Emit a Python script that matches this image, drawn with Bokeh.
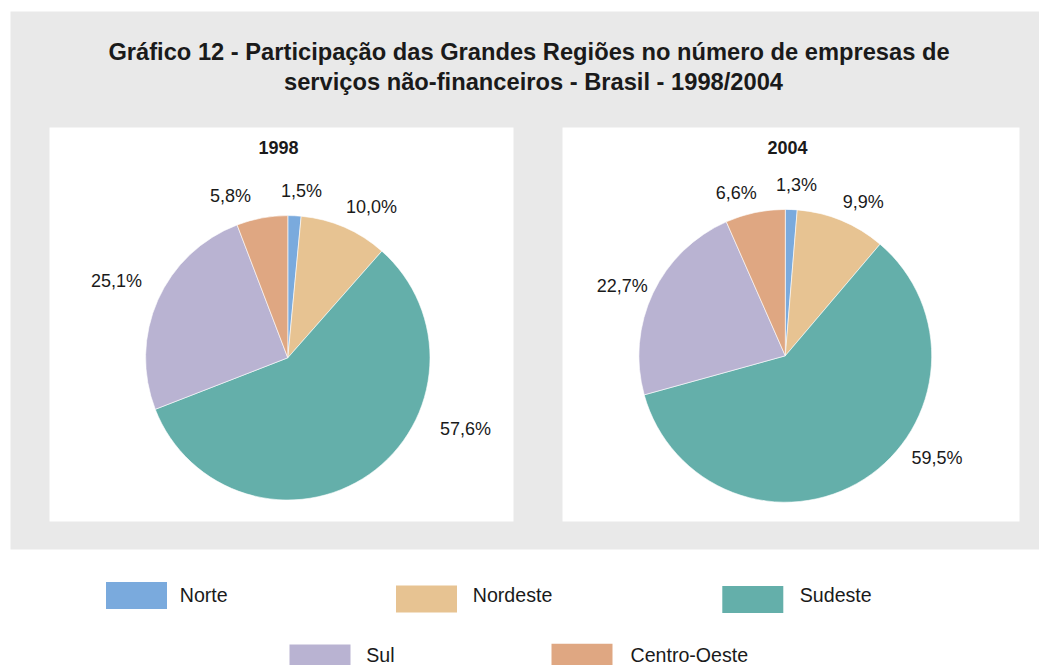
import math
from bokeh.plotting import figure
from bokeh.models import Range1d, ColumnDataSource
from bokeh.core.properties import value
from bokeh.embed import file_html
from bokeh.resources import INLINE

# ---------------- data ----------------
regions = ["Norte", "Nordeste", "Sudeste", "Sul", "Centro-Oeste"]
share_1998 = [1.5, 10.0, 57.6, 25.1, 5.8]
share_2004 = [1.3, 9.9, 59.5, 22.7, 6.6]
years = ["1998", "2004"]
title_lines = [
    "Gráfico 12 - Participação das Grandes Regiões no número de empresas de",
    "serviços não-financeiros - Brasil - 1998/2004",
]

# ---------------- style / layout ----------------
colors = ["#7AAADD", "#E7C392", "#64AFAA", "#B9B3D2", "#DFA782"]
FONT = "Liberation Sans"
TXT = "#1A1A1A"
W, H = 1039, 665


def X(px):
    return px


def Y(py):
    return H - py


p = figure(width=W, height=H, x_range=Range1d(0, W), y_range=Range1d(0, H),
           output_backend="svg", toolbar_location=None, min_border=0,
           x_axis_location=None, y_axis_location=None)
p.xgrid.grid_line_color = None
p.ygrid.grid_line_color = None
p.outline_line_color = None
p.background_fill_color = "white"
p.border_fill_color = "white"

# background panels
p.quad(left=X(10), right=X(1039), top=Y(11), bottom=Y(549),
       fill_color="#E9E9E9", line_color=None)
p.quad(left=[X(49), X(562)], right=[X(513), X(1019)],
       top=[Y(127), Y(127)], bottom=[Y(521), Y(521)],
       fill_color="white", line_color=None)

# title
for line, cx, cy in zip(title_lines, [528.5, 533], [51.5, 81.5]):
    p.text(x=[X(cx)], y=[Y(cy)], text=[line], text_align="center",
           text_baseline="middle", text_font=value(FONT),
           text_font_style="bold", text_font_size="23.7px", text_color=TXT)

# pie layout: centre, radius, sub-title position, label angle adjust (deg) and distance factor
pie_layout = [
    dict(cx=287.3, cy=357.3, r=142.2, tx=278, ty=146.7,
         adj=[2.0, 5.7, -33.3, 0.2, -9.1], dist=[1.175, 1.21, 1.346, 1.32, 1.207]),
    dict(cx=784.8, cy=355.3, r=146.4, tx=787, ty=146.5,
         adj=[1.4, 4.3, -23.4, -2.3, -4.9], dist=[1.17, 1.18, 1.25, 1.21, 1.16]),
]

for year, shares, lay in zip(years, [share_1998, share_2004], pie_layout):
    total = sum(shares)
    cum = 0.0
    starts, ends, lx, ly, labels = [], [], [], [], []
    for i, v in enumerate(shares):
        a0 = cum / total
        cum += v
        a1 = cum / total
        starts.append(math.pi / 2 - 2 * math.pi * a1)
        ends.append(math.pi / 2 - 2 * math.pi * a0)
        mid = math.radians((a0 + a1) / 2 * 360 + lay["adj"][i])
        d = lay["dist"][i] * lay["r"]
        lx.append(X(lay["cx"] + d * math.sin(mid)))
        ly.append(Y(lay["cy"] - d * math.cos(mid)))
        labels.append(f"{v:.1f}".replace(".", ",") + "%")
    src = ColumnDataSource(dict(start=starts, end=ends, color=colors, region=regions))
    p.wedge(x=X(lay["cx"]), y=Y(lay["cy"]), radius=lay["r"],
            start_angle="start", end_angle="end", direction="anticlock",
            fill_color="color", line_color="white", line_width=0.6, source=src)
    p.text(x=lx, y=ly, text=labels, text_align="center", text_baseline="middle",
           text_font=value(FONT), text_font_size="18px", text_color=TXT)
    p.text(x=[X(lay["tx"])], y=[Y(lay["ty"])], text=[year], text_align="center",
           text_baseline="middle", text_font=value(FONT), text_font_style="bold",
           text_font_size="18px", text_color=TXT)

# legend
sw_x = [136, 426, 752.3, 319.5, 581.5]
sw_y = [594.9, 598.4, 598.9, 657.5, 656.8]
tx_x = [179.3, 472.3, 799.3, 365.7, 630]
tx_y = [594.5, 594.5, 594.5, 654.8, 654.8]
p.rect(x=[X(v) for v in sw_x], y=[Y(v) for v in sw_y], width=61, height=27,
       fill_color=colors, line_color=None)
p.text(x=[X(v) for v in tx_x], y=[Y(v) for v in tx_y], text=regions,
       text_align="left", text_baseline="middle", text_font=value(FONT),
       text_font_size="19.6px", text_color=TXT)

open("out.html", "w").write(file_html(p, INLINE))
